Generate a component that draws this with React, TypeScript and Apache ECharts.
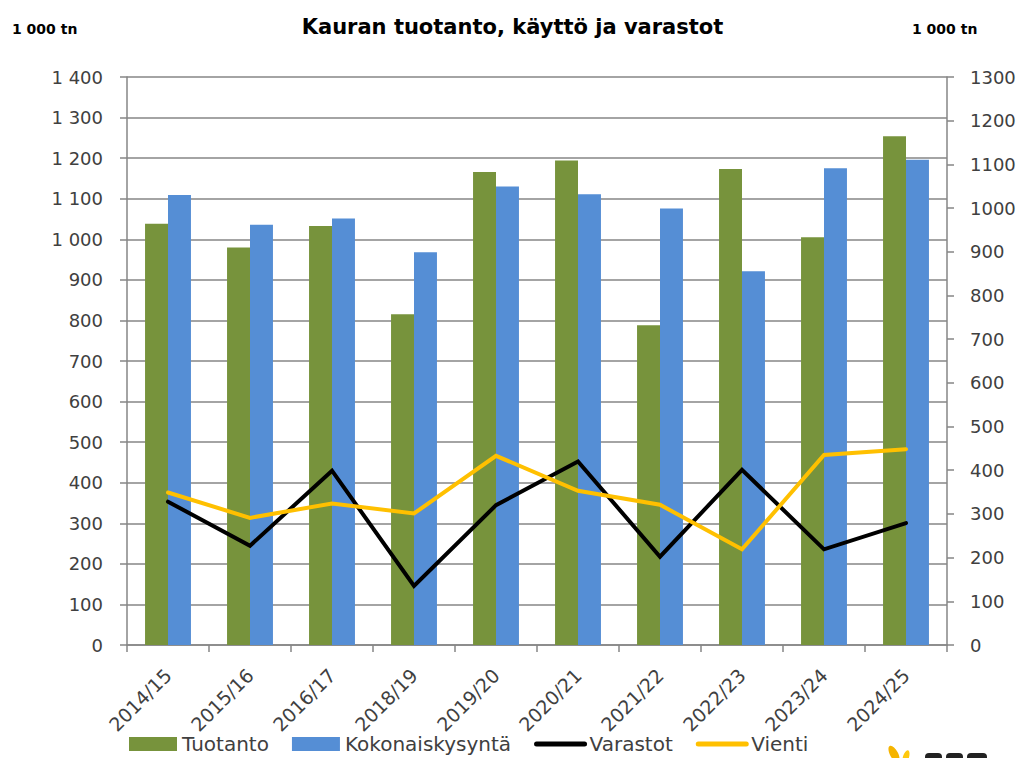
import React, { useEffect, useRef } from "react";
import * as echarts from "echarts";

const categories = ["2014/15", "2015/16", "2016/17", "2018/19", "2019/20", "2020/21", "2021/22", "2022/23", "2023/24", "2024/25"];
const tuotanto = [1038, 980, 1033, 815, 1166, 1194, 788, 1173, 1005, 1254];
const kokonaiskysynta = [1109, 1036, 1051, 968, 1130, 1111, 1076, 921, 1175, 1196];
const varastot = [328, 227, 399, 135, 320, 420, 202, 401, 219, 279];
const vienti = [349, 291, 324, 301, 433, 353, 321, 219, 435, 448];

const titleText = "Kauran tuotanto, käyttö ja varastot";
const unitText = "1 000 tn";

const fmtThousands = (v: number) => String(v).replace(/\B(?=(\d{3})+(?!\d))/g, " ");

export default function App() {
  const ref = useRef<HTMLDivElement>(null);
  useEffect(() => {
    if (!ref.current) return;
    const chart = echarts.init(ref.current, null, { renderer: "svg" });
    const axisGray = "#868686";
    const labelColor = "#404040";
    const font = "DejaVu Sans";
    chart.setOption({
      animation: false,
      backgroundColor: "#ffffff",
      title: {
        text: titleText,
        left: "center",
        top: 11,
        textStyle: { fontFamily: font, fontWeight: "bold", fontSize: 21, color: "#000" },
      },
      graphic: [
        { type: "text", left: 12, top: 22, style: { text: unitText, fontFamily: font, fontWeight: "bold", fontSize: 14, fill: "#000" } },
        { type: "text", left: 912, top: 22, style: { text: unitText, fontFamily: font, fontWeight: "bold", fontSize: 14, fill: "#000" } },
        { type: "ellipse", shape: { cx: 0, cy: 0, rx: 4, ry: 9 }, x: 894, y: 754, rotation: 0.5, style: { fill: "#F5B400" } },
        { type: "ellipse", shape: { cx: 0, cy: 0, rx: 3, ry: 7 }, x: 906, y: 757, rotation: -0.3, style: { fill: "#FFC90E" } },
        { type: "rect", shape: { x: 925, y: 753, width: 17, height: 8, r: 4 }, style: { fill: "#222" } },
        { type: "rect", shape: { x: 946, y: 753, width: 17, height: 8, r: 4 }, style: { fill: "#222" } },
        { type: "rect", shape: { x: 967, y: 753, width: 20, height: 8, r: 4 }, style: { fill: "#222" } },
      ],
      legend: {
        left: 129,
        top: 734,
        padding: 0,
        itemWidth: 48,
        itemHeight: 14,
        itemGap: 23,
        textStyle: { fontFamily: font, fontSize: 20, color: labelColor },
        data: [
          { name: "Tuotanto", icon: "rect" },
          { name: "Kokonaiskysyntä", icon: "rect" },
          { name: "Varastot", itemStyle: { opacity: 0 }, lineStyle: { width: 5, cap: "round", color: "#000000" } },
          { name: "Vienti", itemStyle: { opacity: 0 }, lineStyle: { width: 5, cap: "round", color: "#FFC000" } },
        ],
      },
      grid: { left: 127, right: 78, top: 77, bottom: 113, containLabel: false },
      xAxis: {
        type: "category",
        data: categories,
        axisLine: { lineStyle: { color: axisGray, width: 1.5 } },
        axisTick: { show: true, length: 7, lineStyle: { color: axisGray, width: 1.5 } },
        axisLabel: { rotate: 45, fontFamily: font, fontSize: 19, color: labelColor, margin: 27, interval: 0 },
      },
      yAxis: [
        {
          type: "value",
          min: 0,
          max: 1400,
          interval: 100,
          axisLine: { show: true, lineStyle: { color: axisGray, width: 1.5 } },
          axisTick: { show: true, length: 7, lineStyle: { color: axisGray, width: 1.5 } },
          splitLine: { show: true, lineStyle: { color: axisGray, width: 1.5 } },
          axisLabel: { fontFamily: font, fontSize: 18, color: labelColor, margin: 24, formatter: (v: number) => fmtThousands(v) },
        },
        {
          type: "value",
          min: 0,
          max: 1300,
          interval: 100,
          position: "right",
          axisLine: { show: true, lineStyle: { color: axisGray, width: 1.5 } },
          axisTick: { show: true, length: 7, lineStyle: { color: axisGray, width: 1.5 } },
          splitLine: { show: false },
          axisLabel: { fontFamily: font, fontSize: 18, color: labelColor, margin: 23, formatter: (v: number) => String(v) },
        },
      ],
      series: [
        { name: "Tuotanto", type: "bar", data: tuotanto, yAxisIndex: 0, itemStyle: { color: "#77933C" }, barGap: "0%", barCategoryGap: "44%" },
        { name: "Kokonaiskysyntä", type: "bar", data: kokonaiskysynta, yAxisIndex: 0, itemStyle: { color: "#558ED5" }, barGap: "0%", barCategoryGap: "44%" },
        { name: "Varastot", type: "line", data: varastot, yAxisIndex: 1, symbol: "none", lineStyle: { color: "#000000", width: 4, cap: "round", join: "miter" }, itemStyle: { color: "#000000" } },
        { name: "Vienti", type: "line", data: vienti, yAxisIndex: 1, symbol: "none", lineStyle: { color: "#FFC000", width: 4, cap: "round", join: "miter" }, itemStyle: { color: "#FFC000" } },
      ],
    });
    return () => chart.dispose();
  }, []);
  return <div ref={ref} style={{ position: "absolute", left: 0, top: 0, width: 1025, height: 758 }} />;
}
